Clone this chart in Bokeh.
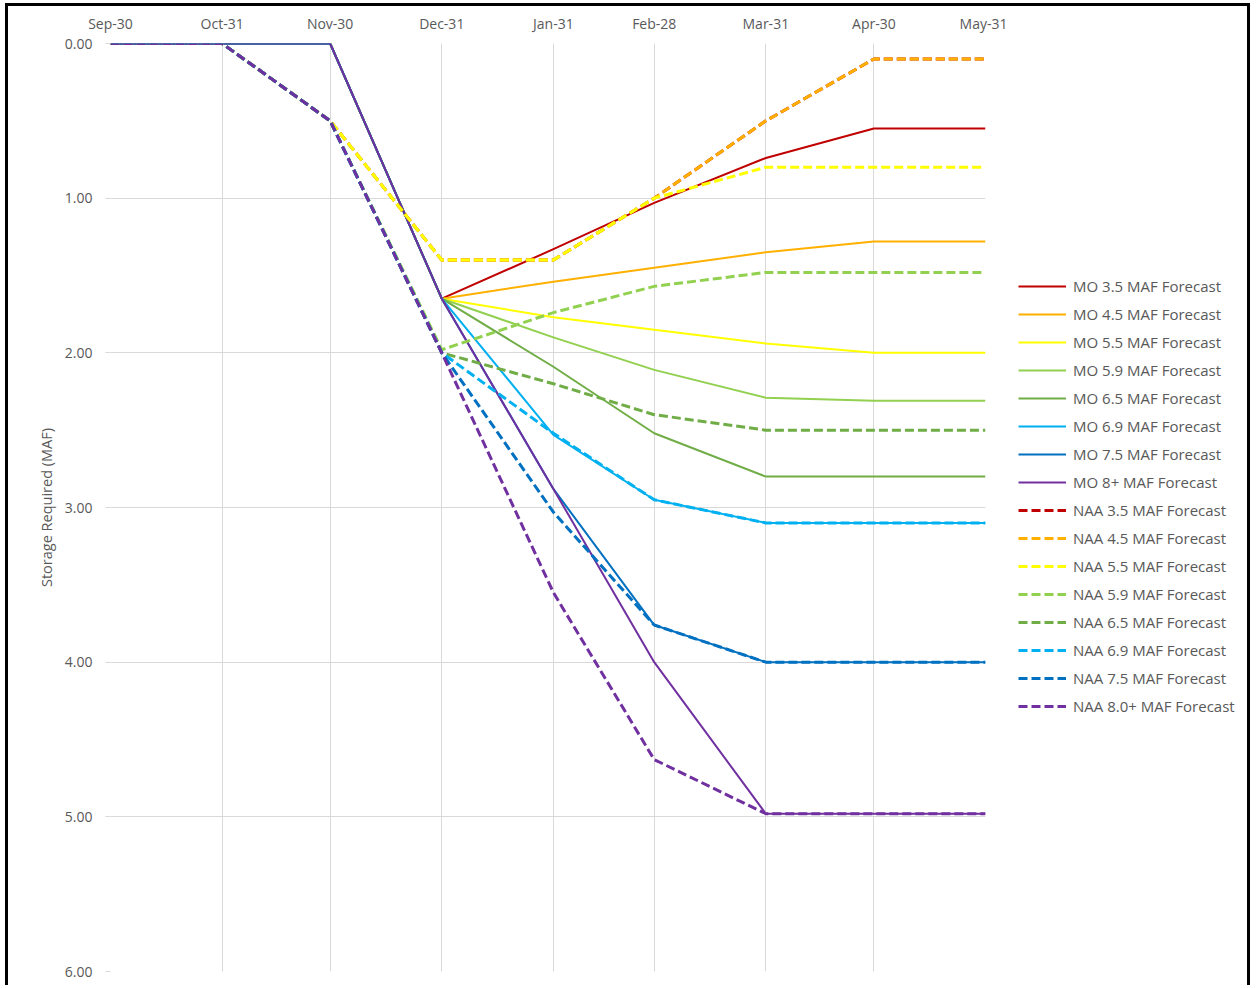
from datetime import datetime
from bokeh.plotting import figure
from bokeh.layouts import row
from bokeh.models import (Range1d, FixedTicker, DatetimeTickFormatter, NumeralTickFormatter,
                          Legend, LegendItem)
from bokeh.embed import file_html
from bokeh.resources import INLINE

# ---- data -------------------------------------------------------------
tick_labels = ["Sep-30", "Oct-31", "Nov-30", "Dec-31", "Jan-31", "Feb-28", "Mar-31", "Apr-30", "May-31"]
dates = ["2020-09-30", "2020-10-31", "2020-11-30", "2020-12-31", "2021-01-31",
         "2021-02-28", "2021-03-31", "2021-04-30", "2021-05-31"]

mo_35 = [0, 0, 0, 1.65, 1.33, 1.03, 0.74, 0.55, 0.55]
mo_45 = [0, 0, 0, 1.65, 1.54, 1.45, 1.35, 1.28, 1.28]
mo_55 = [0, 0, 0, 1.65, 1.77, 1.85, 1.94, 2.00, 2.00]
mo_59 = [0, 0, 0, 1.65, 1.90, 2.11, 2.29, 2.31, 2.31]
mo_65 = [0, 0, 0, 1.65, 2.09, 2.52, 2.80, 2.80, 2.80]
mo_69 = [0, 0, 0, 1.65, 2.53, 2.95, 3.10, 3.10, 3.10]
mo_75 = [0, 0, 0, 1.65, 2.88, 3.76, 4.00, 4.00, 4.00]
mo_8 = [0, 0, 0, 1.65, 2.88, 4.00, 4.98, 4.98, 4.98]

naa_35 = [0, 0, 0.5, 1.40, 1.40, 1.00, 0.50, 0.10, 0.10]
naa_45 = [0, 0, 0.5, 1.40, 1.40, 1.00, 0.50, 0.10, 0.10]
naa_55 = [0, 0, 0.5, 1.40, 1.40, 1.00, 0.80, 0.80, 0.80]
naa_59 = [0, 0, 0.5, 1.98, 1.74, 1.57, 1.48, 1.48, 1.48]
naa_65 = [0, 0, 0.5, 2.00, 2.20, 2.40, 2.50, 2.50, 2.50]
naa_69 = [0, 0, 0.5, 2.00, 2.52, 2.95, 3.10, 3.10, 3.10]
naa_75 = [0, 0, 0.5, 2.00, 3.03, 3.76, 4.00, 4.00, 4.00]
naa_8 = [0, 0, 0.5, 2.00, 3.55, 4.63, 4.98, 4.98, 4.98]

series_names = ["MO 3.5 MAF Forecast", "MO 4.5 MAF Forecast", "MO 5.5 MAF Forecast",
                "MO 5.9 MAF Forecast", "MO 6.5 MAF Forecast", "MO 6.9 MAF Forecast",
                "MO 7.5 MAF Forecast", "MO 8+ MAF Forecast",
                "NAA 3.5 MAF Forecast", "NAA 4.5 MAF Forecast", "NAA 5.5 MAF Forecast",
                "NAA 5.9 MAF Forecast", "NAA 6.5 MAF Forecast", "NAA 6.9 MAF Forecast",
                "NAA 7.5 MAF Forecast", "NAA 8.0+ MAF Forecast"]
series_values = [mo_35, mo_45, mo_55, mo_59, mo_65, mo_69, mo_75, mo_8,
                 naa_35, naa_45, naa_55, naa_59, naa_65, naa_69, naa_75, naa_8]
palette = ["#C00000", "#FFB000", "#FFFF00", "#92D050", "#70AD47", "#00B0F0", "#0070C0", "#7030A0"]

# ---- figure -----------------------------------------------------------
x = [datetime.strptime(d, "%Y-%m-%d") for d in dates]
tick_ms = [xi.timestamp() * 1000 for xi in x]

TXT = "#595959"
GRID = "#d9d9d9"
FONT = "Open Sans"
BORDER = "3px solid black"

p = figure(width=1002, height=982, output_backend="svg", toolbar_location=None,
           x_axis_type="datetime", x_axis_location="above",
           x_range=Range1d(x[0], x[-1]), y_range=Range1d(6, 0),
           min_border_left=102, min_border_top=37, min_border_right=25, min_border_bottom=17)
p.styles = {"border-left": BORDER, "border-top": BORDER, "margin-left": "5px", "margin-top": "3px"}
p.outline_line_color = None

xa = p.xaxis[0]
xa.ticker = FixedTicker(ticks=tick_ms)
fmt = "%b-%d"
xa.formatter = DatetimeTickFormatter(microseconds=fmt, milliseconds=fmt, seconds=fmt, minsec=fmt,
                                     minutes=fmt, hourmin=fmt, hours=fmt, days=fmt, months=fmt,
                                     years=fmt)
xa.axis_line_color = None
xa.major_tick_line_color = None
xa.major_tick_in = 0
xa.major_tick_out = 0
xa.minor_tick_line_color = None
xa.major_label_text_font = FONT
xa.major_label_text_font_size = "14px"
xa.major_label_text_color = TXT
xa.major_label_standoff = 11

ya = p.yaxis[0]
ya.ticker = FixedTicker(ticks=[0, 1, 2, 3, 4, 5, 6])
ya.formatter = NumeralTickFormatter(format="0.00")
ya.axis_line_color = None
ya.major_tick_line_color = GRID
ya.major_tick_in = 0
ya.major_tick_out = 5
ya.minor_tick_line_color = None
ya.major_label_text_font = FONT
ya.major_label_text_font_size = "14px"
ya.major_label_text_color = TXT
ya.major_label_standoff = 13
ya.axis_label = "Storage Required (MAF)"
ya.axis_label_text_font = FONT
ya.axis_label_text_font_size = "14.5px"
ya.axis_label_text_font_style = "normal"
ya.axis_label_text_color = TXT
ya.axis_label_standoff = 6

p.xgrid.ticker = FixedTicker(ticks=tick_ms)
p.ygrid.ticker = FixedTicker(ticks=[0, 1, 2, 3, 4, 5, 6])
p.xgrid.grid_line_color = GRID
p.ygrid.grid_line_color = GRID

# legend panel (separate figure to the right of the plot area)
p2 = figure(width=243, height=982, output_backend="svg", toolbar_location=None,
            x_axis_location=None, y_axis_location=None,
            x_range=Range1d(0, 1), y_range=Range1d(0, 1), min_border=0)
p2.styles = {"border-right": BORDER, "border-top": BORDER, "margin-top": "3px"}
p2.outline_line_color = None
p2.grid.visible = False

items = []
for i, (name, vals) in enumerate(zip(series_names, series_values)):
    dashed = i >= 8
    style = dict(line_color=palette[i % 8], line_width=3 if dashed else 2,
                 line_dash="9 4" if dashed else "solid", line_cap="butt", line_join="round")
    p.line(x, vals, **style)
    # same series in the legend panel; its range (0..1 vs. dates) keeps it off-canvas,
    # it only provides the legend key
    key = p2.line(tick_ms, vals, **style)
    items.append(LegendItem(label=name, renderers=[key]))

legend = Legend(items=items, location=(11, 255), margin=0, padding=0,
                glyph_width=48, glyph_height=20, label_height=20, spacing=8,
                label_standoff=7, label_text_font=FONT, label_text_font_size="15px",
                label_text_color=TXT, border_line_color=None, background_fill_alpha=0)
p2.add_layout(legend)

layout = row(p, p2)
open("out.html", "w").write(file_html(layout, INLINE))
